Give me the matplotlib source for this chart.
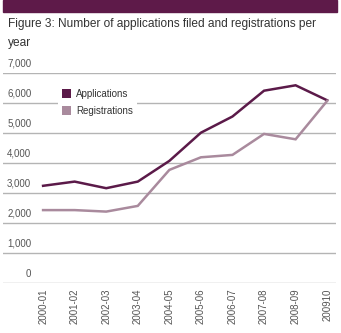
import matplotlib
matplotlib.use("Agg")
import matplotlib.pyplot as plt
from matplotlib.patches import Patch, Rectangle

plt.rcParams['font.family'] = ['Liberation Sans', 'DejaVu Sans']

# data
years = ['2000-01', '2001-02', '2002-03', '2003-04', '2004-05',
         '2005-06', '2006-07', '2007-08', '2008-09', '200910']
applications = [3250, 3390, 3170, 3390, 4080, 5020, 5560, 6420, 6600, 6100]
registrations = [2440, 2440, 2390, 2580, 3780, 4200, 4280, 4980, 4800, 6080]
yticks = [0, 1000, 2000, 3000, 4000, 5000, 6000, 7000]

app_col = '#5b1a49'
reg_col = '#a98a9d'
grid_col = '#b4b4b4'
txt_col = '#555555'

W, H = 341, 333
fig = plt.figure(figsize=(W / 100, H / 100), dpi=100)

# purple banner on top
fig.patches.append(Rectangle((3 / W, 1 - 12 / H), 334 / W, 12 / H,
                             transform=fig.transFigure, color='#5e1a49', zorder=0))

fig.text(8 / W, 1 - 18 / H,
         'Figure 3: Number of applications filed and registrations per\nyear',
         ha='left', va='top', fontsize=8.6, color='#333333', linespacing=1.75)

ax = fig.add_axes([3 / W, (H - 283.3) / H, 333 / W, 210 / H])
x = list(range(len(years)))
ax.plot(x, applications, color=app_col, lw=1.8, solid_joinstyle='miter', zorder=3)
ax.plot(x, registrations, color=reg_col, lw=1.8, solid_joinstyle='miter', zorder=3)

ax.set_xlim(-1.27, 9.28)
ax.set_ylim(0, 7000)
for v in yticks:
    ax.axhline(v, color=grid_col, lw=1, zorder=1)
    ax.text(0.085, v + 150, format(v, ','), transform=ax.get_yaxis_transform(),
            ha='right', va='bottom', fontsize=7, color=txt_col)

ax.set_yticks([])
ax.set_xticks(x)
ax.set_xticklabels(years, rotation=90, fontsize=7, color=txt_col)
ax.tick_params(axis='x', length=0, pad=4)
for s in ax.spines.values():
    s.set_visible(False)

handles = [Patch(facecolor=app_col, label='Applications'),
           Patch(facecolor=reg_col, label='Registrations')]
leg = ax.legend(handles=handles, loc='upper left', bbox_to_anchor=(53 / W, 1 - 80 / H),
                bbox_transform=fig.transFigure, frameon=True, fontsize=7,
                handlelength=1.0, handleheight=1.0, handletextpad=0.5,
                labelspacing=0.7, borderpad=0.4)
leg.get_frame().set_facecolor('white')
leg.get_frame().set_edgecolor('none')
leg.get_frame().set_alpha(1)
for t in leg.get_texts():
    t.set_color('#333333')

fig.savefig('out.png', dpi=100)
